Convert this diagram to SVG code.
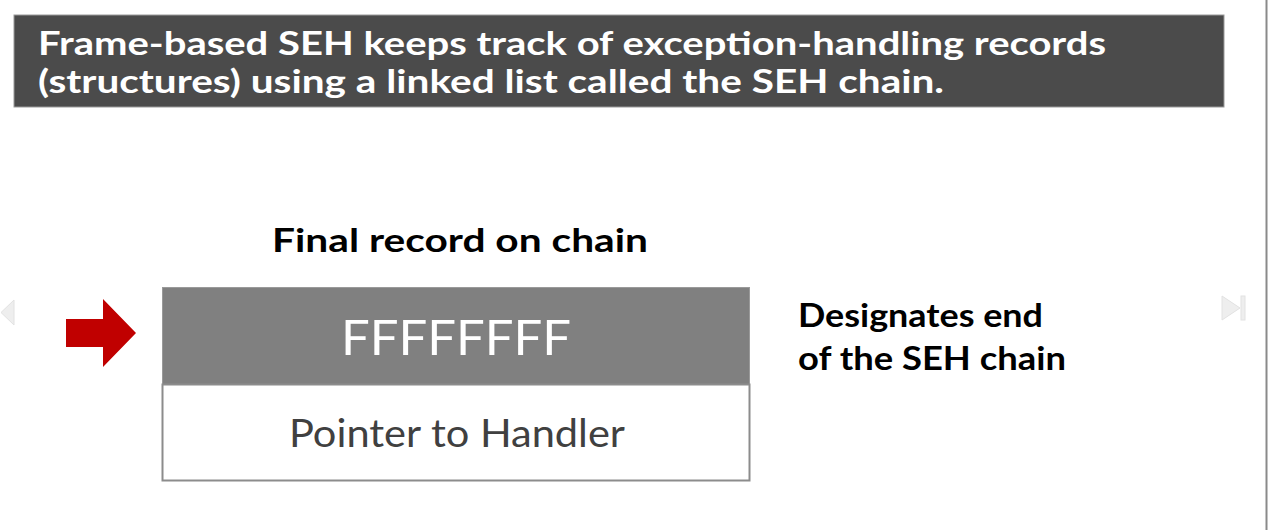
<svg xmlns="http://www.w3.org/2000/svg" width="1268" height="530" viewBox="0 0 1268 530">
  <style>
    .hdr { font-family: Lato, "Open Sans", "Liberation Sans", sans-serif; font-weight: bold; font-size: 33px; fill: #ffffff; }
    .lbl { font-family: Lato, "Open Sans", "Liberation Sans", sans-serif; font-weight: bold; font-size: 32px; fill: #000000; }
    .cell { font-family: Lato, "Open Sans", "Liberation Sans", sans-serif; text-anchor: middle; }
    .nav { fill: #eeeeee; stroke: #e2e2e2; stroke-width: 1; }
  </style>

  <rect x="0" y="0" width="1268" height="530" fill="#ffffff"/>

  <!-- title banner -->
  <g id="banner">
    <rect x="14" y="15" width="1210" height="92" fill="#4b4b4b" stroke="#9a9a9a" stroke-width="1"/>
    <text class="hdr" x="38" y="55" textLength="1068" lengthAdjust="spacingAndGlyphs">Frame-based SEH keeps track of exception-handling records</text>
    <text class="hdr" x="38" y="93" textLength="906" lengthAdjust="spacingAndGlyphs">(structures) using a linked list called the SEH chain.</text>
  </g>

  <!-- slide navigation marks and right edge -->
  <g id="navigation">
    <polygon class="nav" points="14,300 14,325 1,312.5"/>
    <polygon class="nav" points="1222,296 1222,320 1240,308"/>
    <rect class="nav" x="1241" y="296" width="4" height="24"/>
    <line x1="1266.5" y1="0" x2="1266.5" y2="530" stroke="#8a8a8a" stroke-width="2"/>
  </g>

  <g id="caption">
    <text class="lbl" x="272" y="252" font-size="34" textLength="376" lengthAdjust="spacingAndGlyphs">Final record on chain</text>
  </g>

  <!-- pointer into the record -->
  <g id="connectors">
    <polygon points="66,319 103,319 103,299 136,333 103,367 103,347 66,347" fill="#c00000"/>
  </g>

  <g id="record">
    <rect x="162.5" y="287.5" width="587" height="97" fill="#808080" stroke="#9a9a9a" stroke-width="1"/>
    <rect x="162.5" y="384.5" width="587" height="96" fill="#ffffff" stroke="#8c8c8c" stroke-width="2"/>
    <text class="cell" x="456" y="355" font-size="48" fill="#ffffff" textLength="230" lengthAdjust="spacingAndGlyphs">FFFFFFFF</text>
    <text class="cell" x="457" y="447" font-size="38" fill="#404040" textLength="336" lengthAdjust="spacingAndGlyphs">Pointer to Handler</text>
  </g>

  <g id="note">
    <text class="lbl" x="798" y="327" textLength="245" lengthAdjust="spacingAndGlyphs">Designates end</text>
    <text class="lbl" x="798" y="370" textLength="268" lengthAdjust="spacingAndGlyphs">of the SEH chain</text>
  </g>
</svg>
